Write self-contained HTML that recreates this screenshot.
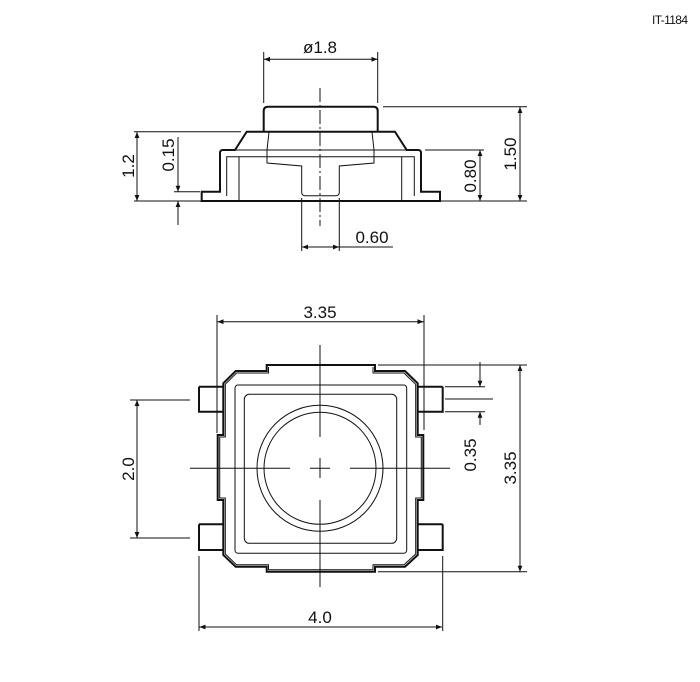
<!DOCTYPE html>
<html><head><meta charset="utf-8"><style>
html,body{margin:0;padding:0;background:#fff;}
svg{display:block;}
text{font-family:"Liberation Sans",sans-serif;fill:#111;}
</style></head><body>
<svg width="700" height="682" viewBox="0 0 700 682" xmlns="http://www.w3.org/2000/svg">
<defs>
<marker id="a" viewBox="0 0 10 10" refX="10" refY="5" markerWidth="11" markerHeight="6" orient="auto-start-reverse" markerUnits="userSpaceOnUse"><path d="M0,1 L10,5 L0,9 z" fill="#111"/></marker>
</defs>
<text x="652" y="24" font-size="12" textLength="36">IT-1184</text>

<!-- SIDE VIEW -->
<g fill="none" stroke="#111" stroke-width="2">
<path d="M263.7,131.7 V111 Q263.7,106.7 268,106.7 H373.5 Q377.7,106.7 377.7,111 V131.7"/>
<path d="M246.7,131.7 H395 L406.7,150 H418 Q421,150 421,153 V191.7 H440 V201 H201.7 V191.7 H220 V153 Q220,150 223,150 H235 Z"/>
</g>
<g fill="none" stroke="#111" stroke-width="1">
<line x1="246.7" y1="131.7" x2="395" y2="131.7"/>
<path d="M226.7,196 V156.7 H414.3 V196"/>
<line x1="239" y1="157" x2="239" y2="201"/>
<line x1="401.7" y1="157" x2="401.7" y2="201"/>
<line x1="235" y1="150" x2="406.7" y2="150"/>
<path d="M269,132 L267,150 V163 L301.7,166 V192 Q301.7,195.7 305,195.7 H336 Q339.3,195.7 339.3,192 V166 L374,163 V150 L372,132"/>
<line x1="320" y1="88" x2="320" y2="226" stroke-dasharray="14,3,2,3"/>
<line x1="263.7" y1="52" x2="263.7" y2="103"/>
<line x1="377.7" y1="52" x2="377.7" y2="103"/>
<line x1="264" y1="59.3" x2="377.5" y2="59.3" marker-start="url(#a)" marker-end="url(#a)"/>
<line x1="383" y1="106.7" x2="527" y2="106.7"/>
<line x1="440" y1="201" x2="527" y2="201"/>
<line x1="520" y1="107" x2="520" y2="201" marker-start="url(#a)" marker-end="url(#a)"/>
<line x1="425" y1="150" x2="484" y2="150"/>
<line x1="480" y1="150" x2="480" y2="201" marker-start="url(#a)" marker-end="url(#a)"/>
<line x1="134" y1="131.7" x2="241" y2="131.7"/>
<line x1="134" y1="201" x2="201" y2="201"/>
<line x1="137" y1="132" x2="137" y2="201" marker-start="url(#a)" marker-end="url(#a)"/>
<line x1="174" y1="191.7" x2="200" y2="191.7"/>
<line x1="178" y1="137" x2="178" y2="191.7" marker-end="url(#a)"/>
<line x1="178" y1="225" x2="178" y2="201" marker-end="url(#a)"/>
<line x1="301.7" y1="198" x2="301.7" y2="251"/>
<line x1="339.3" y1="198" x2="339.3" y2="251"/>
<line x1="302" y1="247" x2="339" y2="247" marker-start="url(#a)" marker-end="url(#a)"/>
<line x1="339" y1="247" x2="393" y2="247"/>
</g>
<text x="320" y="53" font-size="17" text-anchor="middle">ø1.8</text>
<text x="372" y="243" font-size="17" text-anchor="middle">0.60</text>
<text transform="translate(134,166) rotate(-90)" font-size="17" text-anchor="middle">1.2</text>
<text transform="translate(174,155) rotate(-90)" font-size="17" text-anchor="middle">0.15</text>
<text transform="translate(476,176) rotate(-90)" font-size="17" text-anchor="middle">0.80</text>
<text transform="translate(516,154) rotate(-90)" font-size="17" text-anchor="middle">1.50</text>

<!-- TOP VIEW -->
<g fill="none" stroke="#111" stroke-width="2">
<path d="M266.7,365 V371 H235.7 L223.3,383.3 V435 H217.7 V500 H223.3 V555 L235.7,566.7 H266.7 V571.7 H375 V566.7 H405 L417.7,555 V500 H423.3 V435 H417.7 V383.3 L405,371 H375 V365 Z"/>
<path d="M199,386.7 H223.3 M199,386.7 V411.7 H223.3"/>
<path d="M199,524.3 H223.3 M199,524.3 V550 H223.3"/>
<path d="M442.7,386.7 H417.7 M442.7,386.7 V411.7 H417.7"/>
<path d="M442.7,524.3 H417.7 M442.7,524.3 V550 H417.7"/>
</g>
<g fill="none" stroke="#111" stroke-width="1">
<path d="M268.5,367 V373 H236.5 L225.3,384.3 V437 H219.7 V498 H225.3 V554 L236.5,564.7 H268.5 V569.7 H373 V564.7 H404 L415.7,554 V498 H421.3 V437 H415.7 V384.3 L404,373 H373 V367"/>
<rect x="235" y="385" width="171.7" height="168.3" rx="3"/>
<rect x="244.3" y="394.3" width="152.4" height="149" rx="5"/>
<circle cx="320" cy="468.3" r="63"/>
<circle cx="320" cy="468.3" r="56"/>
<path d="M190,468.3 H290 M310,468.3 H330 M350,468.3 H450"/>
<path d="M320,345 V437 M320,458 V478 M320,500 V587"/>
<line x1="217" y1="315" x2="217" y2="433"/>
<line x1="424" y1="315" x2="424" y2="430"/>
<line x1="217.5" y1="321.7" x2="423.5" y2="321.7" marker-start="url(#a)" marker-end="url(#a)"/>
<line x1="130" y1="400" x2="190" y2="400"/>
<line x1="130" y1="538" x2="190" y2="538"/>
<line x1="137" y1="400" x2="137" y2="538" marker-start="url(#a)" marker-end="url(#a)"/>
<line x1="378" y1="365" x2="527" y2="365"/>
<line x1="378" y1="571.7" x2="527" y2="571.7"/>
<line x1="520" y1="365" x2="520" y2="571.7" marker-start="url(#a)" marker-end="url(#a)"/>
<line x1="445" y1="386.7" x2="485" y2="386.7"/>
<line x1="445" y1="399" x2="493" y2="399"/>
<line x1="445" y1="411.7" x2="485" y2="411.7"/>
<line x1="480" y1="362" x2="480" y2="386.7" marker-end="url(#a)"/>
<line x1="480" y1="425" x2="480" y2="411.7" marker-end="url(#a)"/>
<line x1="199" y1="556" x2="199" y2="631"/>
<line x1="442.7" y1="556" x2="442.7" y2="631"/>
<line x1="199.5" y1="627" x2="442" y2="627" marker-start="url(#a)" marker-end="url(#a)"/>
</g>
<text x="320" y="318" font-size="17" text-anchor="middle">3.35</text>
<text x="320" y="623" font-size="17" text-anchor="middle">4.0</text>
<text transform="translate(134,469) rotate(-90)" font-size="17" text-anchor="middle">2.0</text>
<text transform="translate(476,455) rotate(-90)" font-size="17" text-anchor="middle">0.35</text>
<text transform="translate(516,468) rotate(-90)" font-size="17" text-anchor="middle">3.35</text>
</svg>
</body></html>
